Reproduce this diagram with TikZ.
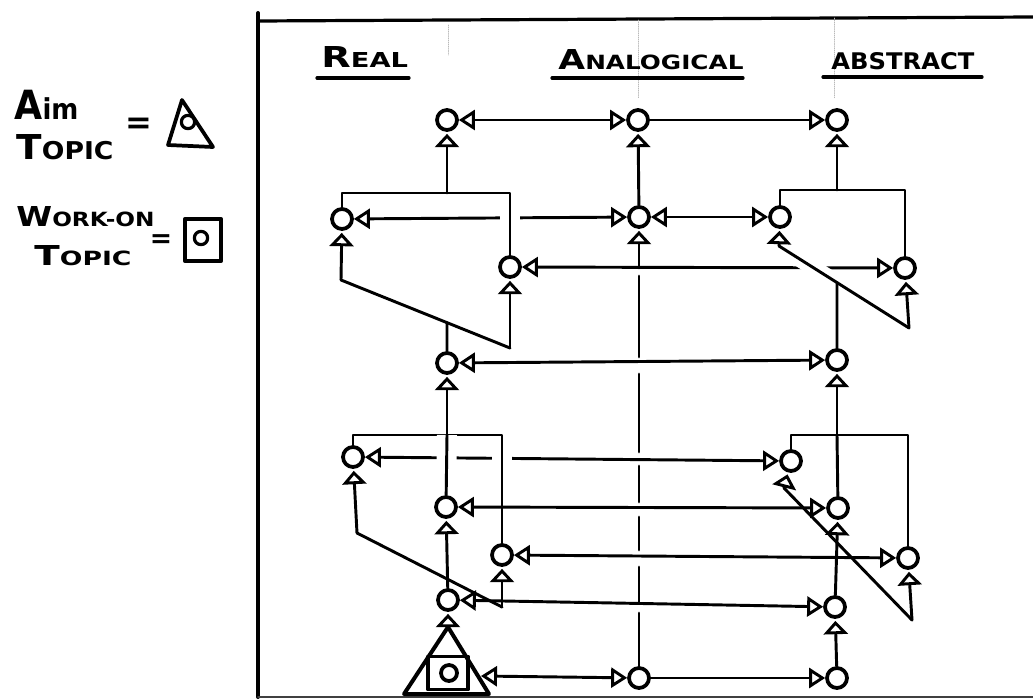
\documentclass[tikz,border=0pt]{standalone}
\usepackage{graphicx}
\usepackage{fontspec}
\setmainfont{DejaVu Sans}
\usetikzlibrary{arrows.meta}
\newcommand{\capsmall}[2]{{\fontsize{14}{14}\selectfont #1}{\fontsize{10}{10}\selectfont #2}}
\newcommand{\handtext}[3]{\resizebox{#1}{#2}{\bfseries #3}}
\begin{document}
\begin{tikzpicture}[x=0.75pt,y=-0.75pt,line width=2.2pt,line cap=round,line join=round,
  >={Triangle[open,length=12pt,width=15pt]},
  topic/.style={circle,draw,line width=2.8pt,minimum size=15pt,inner sep=0pt,fill=white},
  upward/.style={-{Triangle[open,length=10pt,width=18pt]},shorten >=1.5pt},
  bridge/.style={preaction={draw,white,line width=#1,line cap=butt}},
  bridge/.default=15pt,
  guide/.style={draw=gray!55,line width=0.6pt,densely dotted},
  headtext/.style={inner sep=0pt,anchor=base west}]
\useasboundingbox (0,0) rectangle (1033,699);

\node[headtext] (aimword) at (13,120) {\handtext{48pt}{22pt}{\capsmall{A}{im}}};
\node[headtext] (aimtopic) at (15,160) {\handtext{72.75pt}{18.75pt}{\capsmall{T}{OPIC}}};
\node[headtext] (workword) at (15,227) {\handtext{103.5pt}{15pt}{\capsmall{W}{ORK-ON}}};
\node[headtext] (worktopic) at (33,265) {\handtext{72.75pt}{15pt}{\capsmall{T}{OPIC}}};
\node (eqaim) at (139,126) {\fontsize{24}{24}\selectfont\bfseries =};
\node (eqwork) at (161,241) {\fontsize{20}{20}\selectfont\bfseries =};
\draw[line width=2.8pt] (182,100) -- (213,147) -- (168,145) -- cycle;
\node[topic,minimum size=10pt,line width=2.4pt] (aimkey) at (188,122) {};
\node[draw,line width=2.8pt,minimum width=27pt,minimum height=32pt,inner sep=0pt] (workkey) at (203,240) {};
\node[topic,minimum size=10pt,line width=2.4pt] (workdot) at (201,238) {};

\draw[line width=2.4pt] (258,21) -- (1033,17);
\draw[line width=3pt] (258,13) -- (258,697);
\draw[line width=1.4pt,black!75] (258,697) -- (1033,697);
\draw[guide] (448,25) -- (448,55);
\draw[guide] (638,20) -- (638,98);
\draw[guide] (834,18) -- (834,98);

\node[headtext] (real) at (320,68) {\handtext{65pt}{15.75pt}{\capsmall{R}{EAL}}};
\node[headtext] (analog) at (557,70) {\handtext{138.75pt}{15pt}{\capsmall{A}{NALOGICAL}}};
\node[headtext] (abstract) at (830,70) {\handtext{107.25pt}{12.75pt}{ABSTRACT}};
\draw[line width=2.4pt] (317,78) -- (409,78);
\draw[line width=2.4pt] (552,78) -- (743,78);
\draw[line width=2.4pt] (823,77) -- (982,77);

\node[topic] (rA) at (447,120) {};
\node[topic] (nA) at (638,120) {};
\node[topic] (bA) at (837,120) {};
\node[topic] (rB) at (342,219) {};
\node[topic] (nB) at (639,217) {};
\node[topic] (bB) at (780,217) {};
\node[topic] (rC) at (510,267) {};
\node[topic] (bC) at (905,268) {};
\node[topic] (rD) at (447,363) {};
\node[topic] (bD) at (837,360) {};
\node[topic] (rE) at (353,457) {};
\node[topic] (bE) at (791,461) {};
\node[topic] (rF) at (446,507) {};
\node[topic] (bF) at (838,508) {};
\node[topic] (rG) at (502,555) {};
\node[topic] (bG) at (908,558) {};
\node[topic] (rH) at (448,600) {};
\node[topic] (bH) at (835,607) {};
\node[topic] (nZ) at (639,678) {};
\node[topic] (bZ) at (837,678) {};

\node[draw,line width=2.6pt,minimum width=30pt,minimum height=25pt,inner sep=0pt] (aimsq) at (448,673) {};
\node[topic,minimum size=12pt] (aimdot) at (449,673) {};
\draw[line width=3pt] (448,627) -- (489,694) -- (404,694) -- cycle;

\coordinate (rT1) at (447,193);
\coordinate (rL1) at (341,280);
\coordinate (rR1) at (510,348);
\coordinate (rT2) at (447,435);
\coordinate (rL2) at (357,533);
\coordinate (rR2) at (502,607);
\coordinate (bT1) at (837,190);
\coordinate (bL1) at (779,246);
\coordinate (bR1) at (909,328);
\coordinate (bT2) at (837,435);
\coordinate (bL2) at (784,488);
\coordinate (bR2) at (912,620);
\coordinate (aimtop) at (448,628);
\coordinate (aimR) at (481,676);
\path (rL1) -- (rR1) coordinate[pos=0.627] (rM1);
\path (bL1) -- (bR1) coordinate[pos=0.446] (bM1);

\draw[<->] (rA) -- (nA);
\draw[->] (nA) -- (bA);
\draw[<->] (rB) -- (nB);
\draw[<->] (nB) -- (bB);
\draw[<->] (rC) -- (bC);
\draw[<->] (rD) -- (bD);
\draw[<->] (rE) -- (bE);

\draw[bridge] (rB.north) |- (rT1) -| (rC.north);
\draw[bridge=12pt] (bL1) -- (bR1);
\draw[bridge] (rE.north) |- (rT2) -| (rG.north);
\draw[bridge] (rT2) -- (rF);

\draw[<->] (rF) -- (bF);
\draw[<->] (rG) -- (bG);
\draw[<->] (rH) -- (bH);
\draw[<->] (aimR) -- (nZ);
\draw[->] (nZ) -- (bZ);

\draw[upward] (rT1) -- (rA);
\draw[upward] (rL1) -- (rB);
\draw (rL1) -- (rR1);
\draw[upward] (rR1) -- (rC);
\draw (rM1) -- (rD);
\draw[upward] (rT2) -- (rD);
\draw[upward] (rL2) -- (rE);
\draw (rL2) -- (rR2);
\draw[upward] (rR2) -- (rG);
\draw[upward] (rH) -- (rF);
\draw[upward] (aimtop) -- (rH);

\draw[upward] (nB) -- (nA);
\draw[upward] (639,268) -- (nB);
\foreach \ya/\yb in {276/357,374/452,466/502,517/550,567/603,613/667}
  \draw (639,\ya) -- (639,\yb);

\draw (bB.north) |- (bT1) -| (bC.north);
\draw[upward] (bT1) -- (bA);
\draw[upward] (bL1) -- (bB);
\draw[upward] (bR1) -- (bC);
\draw (bM1) -- (bD);
\draw[upward] (bT2) -- (bD);
\draw (bE.north) |- (bT2) -| (bG.north);
\draw (bT2) -- (bF);
\draw[upward] (bL2) -- (bE);
\draw (bL2) -- (bR2);
\draw[upward] (bR2) -- (bG);
\draw[upward] (bH) -- (bF);
\draw[upward] (bZ) -- (bH);
\end{tikzpicture}
\end{document}
